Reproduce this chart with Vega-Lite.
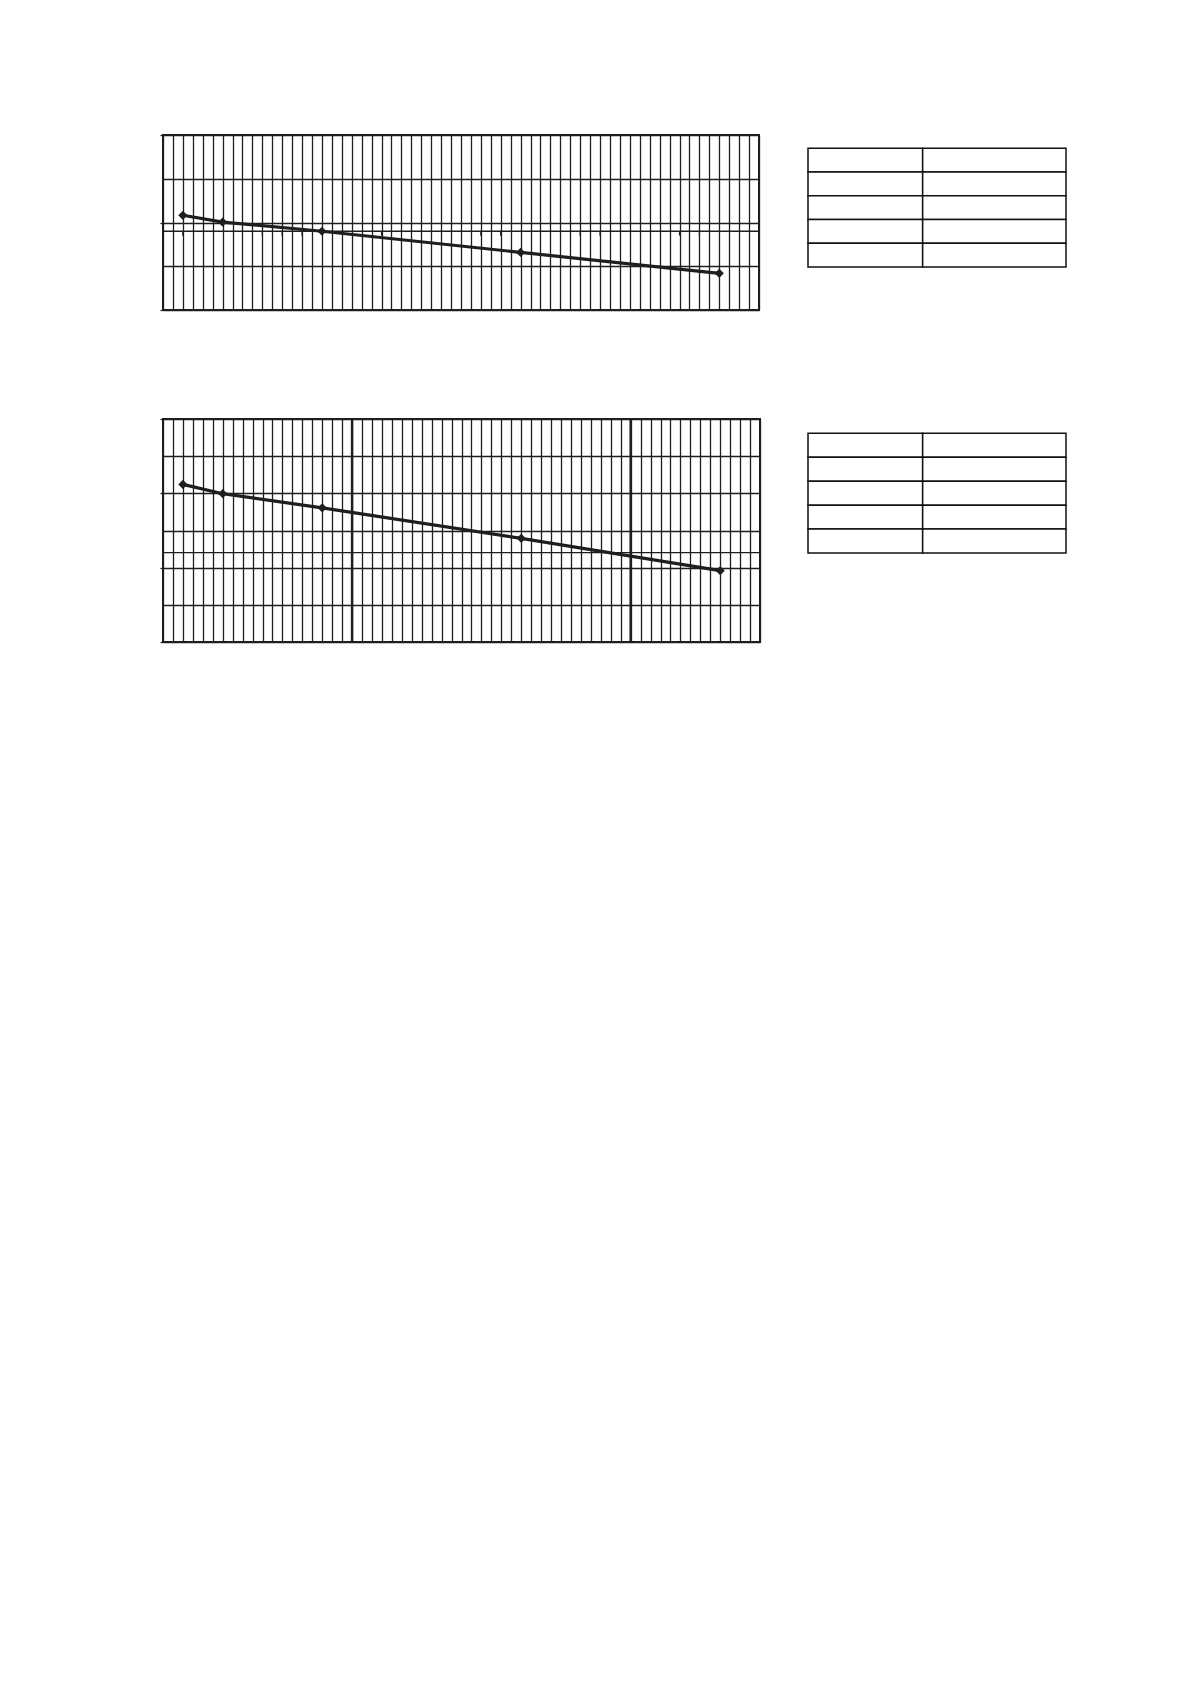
{
  "$schema": "https://vega.github.io/schema/vega-lite/v6.json",
  "background": "white",
  "padding": {"left": 158, "top": 133, "right": 5, "bottom": 5},
  "config": {
    "view": {"stroke": "#1e1e1e", "strokeWidth": 2},
    "axis": {
      "gridColor": "#1e1e1e",
      "gridWidth": 1.3,
      "gridOpacity": 1,
      "labels": false,
      "title": null,
      "domain": false,
      "tickColor": "#1e1e1e",
      "tickWidth": 1.3,
      "tickSize": 3
    }
  },
  "datasets": {
    "series1": [
      {"d": 2, "v": 2.165},
      {"d": 6, "v": 2.01},
      {"d": 16, "v": 1.8},
      {"d": 36, "v": 1.317},
      {"d": 56, "v": 0.839}
    ],
    "series2": [
      {"d": 2, "v": 4.24},
      {"d": 6, "v": 3.99},
      {"d": 16, "v": 3.61},
      {"d": 36, "v": 2.79},
      {"d": 56, "v": 1.92}
    ],
    "marks1": [
      {"d": 2}, {"d": 10}, {"d": 12}, {"d": 14}, {"d": 22}, {"d": 32},
      {"d": 34}, {"d": 42}, {"d": 44}, {"d": 52}, {"d": 54}
    ],
    "ref1": [{"v": 1.8}],
    "ref2": [{"v": 2.405}],
    "major2": [{"d": 19}, {"d": 47}],
    "cells": [
      {"c0": 0, "c1": 4, "r0": 0, "r1": 1},
      {"c0": 4, "c1": 9, "r0": 0, "r1": 1},
      {"c0": 0, "c1": 4, "r0": 1, "r1": 2},
      {"c0": 4, "c1": 9, "r0": 1, "r1": 2},
      {"c0": 0, "c1": 4, "r0": 2, "r1": 3},
      {"c0": 4, "c1": 9, "r0": 2, "r1": 3},
      {"c0": 0, "c1": 4, "r0": 3, "r1": 4},
      {"c0": 4, "c1": 9, "r0": 3, "r1": 4},
      {"c0": 0, "c1": 4, "r0": 4, "r1": 5},
      {"c0": 4, "c1": 9, "r0": 4, "r1": 5}
    ]
  },
  "columns": 2,
  "spacing": {"row": 104, "column": 45},
  "concat": [
    {
      "width": 596,
      "height": 175,
      "layer": [
        {
          "data": {"name": "series1"},
          "mark": {"type": "line", "color": "#1e1e1e", "strokeWidth": 3.2},
          "encoding": {
            "x": {
              "field": "d",
              "type": "quantitative",
              "scale": {"domain": [0, 60], "nice": false, "zero": false},
              "axis": {
                "values": [0,1,2,3,4,5,6,7,8,9,10,11,12,13,14,15,16,17,18,19,20,21,22,23,24,25,26,27,28,29,30,31,32,33,34,35,36,37,38,39,40,41,42,43,44,45,46,47,48,49,50,51,52,53,54,55,56,57,58,59,60],
                "tickCount": 200,
                "grid": true,
                "ticks": false
              }
            },
            "y": {
              "field": "v",
              "type": "quantitative",
              "scale": {"domain": [0, 4], "nice": false},
              "axis": {
                "values": [0, 1, 2, 3, 4],
                "tickCount": 50,
                "grid": true,
                "ticks": true,
                "tickOpacity": {"condition": {"test": "datum.value % 2 !== 0", "value": 0}, "value": 1}
              }
            }
          }
        },
        {
          "data": {"name": "ref1"},
          "mark": {"type": "rule", "color": "#1e1e1e", "strokeWidth": 1.3},
          "encoding": {"y": {"field": "v", "type": "quantitative"}}
        },
        {
          "data": {"name": "marks1"},
          "mark": {"type": "rule", "color": "#1e1e1e", "strokeWidth": 1.3},
          "encoding": {
            "x": {"field": "d", "type": "quantitative"},
            "y": {"datum": 1.8},
            "y2": {"datum": 1.7}
          }
        },
        {
          "data": {"name": "series1"},
          "mark": {"type": "point", "shape": "diamond", "filled": true, "color": "#1e1e1e", "size": 85, "opacity": 1},
          "encoding": {
            "x": {"field": "d", "type": "quantitative"},
            "y": {"field": "v", "type": "quantitative"}
          }
        }
      ]
    },
    {
      "width": 258,
      "height": 132,
      "view": {"stroke": null},
      "data": {"name": "cells"},
      "mark": {"type": "rect", "fill": "white", "stroke": "#111111", "strokeWidth": 1.5},
      "encoding": {
        "x": {"field": "c0", "type": "quantitative", "scale": {"domain": [0, 9], "nice": false, "zero": false}, "axis": null},
        "x2": {"field": "c1"},
        "y": {"field": "r0", "type": "quantitative", "scale": {"domain": [-0.56, 5], "reverse": true, "nice": false, "zero": false}, "axis": null},
        "y2": {"field": "r1"}
      }
    },
    {
      "width": 597,
      "height": 223,
      "layer": [
        {
          "data": {"name": "series2"},
          "mark": {"type": "line", "color": "#1e1e1e", "strokeWidth": 3.2},
          "encoding": {
            "x": {
              "field": "d",
              "type": "quantitative",
              "scale": {"domain": [0, 60], "nice": false, "zero": false},
              "axis": {
                "values": [0,1,2,3,4,5,6,7,8,9,10,11,12,13,14,15,16,17,18,19,20,21,22,23,24,25,26,27,28,29,30,31,32,33,34,35,36,37,38,39,40,41,42,43,44,45,46,47,48,49,50,51,52,53,54,55,56,57,58,59,60],
                "tickCount": 200,
                "grid": true,
                "ticks": false
              }
            },
            "y": {
              "field": "v",
              "type": "quantitative",
              "scale": {"domain": [0, 6], "nice": false},
              "axis": {
                "values": [0, 1, 2, 3, 4, 5, 6],
                "tickCount": 50,
                "grid": true,
                "ticks": true,
                "tickOpacity": {"condition": {"test": "datum.value % 2 !== 0", "value": 0}, "value": 1}
              }
            }
          }
        },
        {
          "data": {"name": "ref2"},
          "mark": {"type": "rule", "color": "#1e1e1e", "strokeWidth": 1.3},
          "encoding": {"y": {"field": "v", "type": "quantitative"}}
        },
        {
          "data": {"name": "major2"},
          "mark": {"type": "rule", "color": "#1e1e1e", "strokeWidth": 2.4},
          "encoding": {"x": {"field": "d", "type": "quantitative"}}
        },
        {
          "data": {"name": "series2"},
          "mark": {"type": "point", "shape": "diamond", "filled": true, "color": "#1e1e1e", "size": 85, "opacity": 1},
          "encoding": {
            "x": {"field": "d", "type": "quantitative"},
            "y": {"field": "v", "type": "quantitative"}
          }
        }
      ]
    },
    {
      "width": 258,
      "height": 134,
      "view": {"stroke": null},
      "data": {"name": "cells"},
      "mark": {"type": "rect", "fill": "white", "stroke": "#111111", "strokeWidth": 1.5},
      "encoding": {
        "x": {"field": "c0", "type": "quantitative", "scale": {"domain": [0, 9], "nice": false, "zero": false}, "axis": null},
        "x2": {"field": "c1"},
        "y": {"field": "r0", "type": "quantitative", "scale": {"domain": [-0.6, 5], "reverse": true, "nice": false, "zero": false}, "axis": null},
        "y2": {"field": "r1"}
      }
    }
  ]
}
